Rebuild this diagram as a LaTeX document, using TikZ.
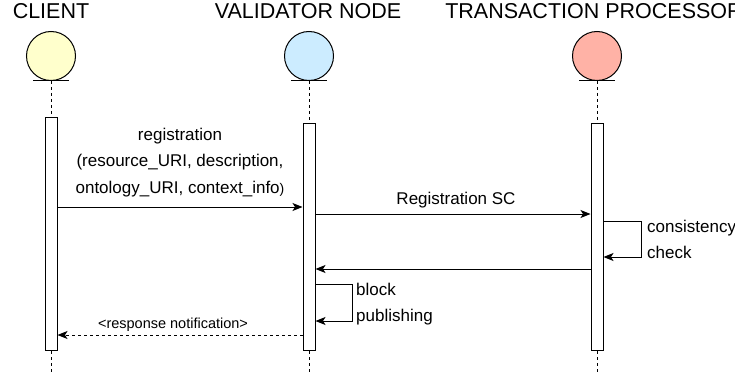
\documentclass[tikz,border=0pt]{standalone}
\usepackage{fontspec}
\setmainfont{Liberation Sans}
\usetikzlibrary{arrows.meta}
\definecolor{clientfill}{RGB}{255,255,204}
\definecolor{validfill}{RGB}{204,236,255}
\definecolor{procfill}{RGB}{255,178,166}
\tikzset{
  x=1pt, y=-1pt,
  actortitle/.style={font=\fontsize{21.5}{26}\selectfont, anchor=base, inner sep=0pt},
  actorhead/.style={circle, draw, line width=1pt, minimum size=49pt, inner sep=0pt},
  lifeline/.style={line width=1pt, dash pattern=on 3pt off 3pt},
  actbar/.style={draw, fill=white, line width=1pt, minimum width=12pt, inner sep=0pt, anchor=north},
  msg/.style={line width=1pt, -{Stealth[length=10pt,width=8pt,inset=2.5pt]}},
  reply/.style={msg, dash pattern=on 3pt off 3pt},
  msglabel/.style={font=\fontsize{17}{26}\selectfont, inner sep=0pt, anchor=base},
  smalllabel/.style={font=\fontsize{14.5}{18}\selectfont, inner sep=0pt, anchor=base},
}
\begin{document}
\begin{tikzpicture}
\useasboundingbox (0,0) rectangle (735,374);

% actor titles
\node[actortitle] (tclient) at (51,19) {CLIENT};
\node[actortitle] (tvalid) at (308,19) {VALIDATOR NODE};
\node[actortitle] (tproc) at (594,19) {TRANSACTION PROCESSOR};

% lifelines
\coordinate (eclient) at (51,372);
\coordinate (evalid) at (309,372);
\coordinate (eproc) at (597,372);
\node[actorhead, fill=clientfill] (hclient) at (51,56) {};
\node[actorhead, fill=validfill] (hvalid) at (309,56) {};
\node[actorhead, fill=procfill] (hproc) at (597,56) {};
\draw[lifeline] (hclient.south) -- (eclient);
\draw[lifeline] (hvalid.south) -- (evalid);
\draw[lifeline] (hproc.south) -- (eproc);
\foreach \h in {hclient,hvalid,hproc}
  \draw[line width=1pt] ([xshift=-18pt]\h.south) -- ([xshift=18pt]\h.south);

% activation bars
\node[actbar, minimum height=233pt] (bclient) at (51,117) {};
\node[actbar, minimum height=227pt] (bvalid) at (309,123) {};
\node[actbar, minimum height=227pt] (bproc) at (597,123) {};

% registration request (base anchor sits on the last line)
\draw[msg] (bclient.east |- 0,207) -- (bvalid.west |- 0,207);
\node[msglabel, align=center] (lreg) at (180,193)
  {registration\\(resource\_URI, description,\\ontology\_URI, context\_info{\fontsize{14}{26}\selectfont)}};

% smart contract call
\draw[msg] (bvalid.east |- 0,214) -- (bproc.west |- 0,214);
\node[msglabel] (lsc) at (456,204) {Registration SC};

% consistency check loop
\draw[msg] (bproc.east |- 0,221) -- ++(38,0) |- (bproc.east |- 0,257);
\node[msglabel, anchor=base west] (lcons) at (647,232) {consistency};
\node[msglabel, anchor=base west] (lcheck) at (647,258) {check};

% result back to validator
\draw[msg] (bproc.west |- 0,269) -- (bvalid.east |- 0,269);

% block publishing loop
\draw[msg] (bvalid.east |- 0,284) -- ++(37,0) |- (bvalid.east |- 0,321);
\node[msglabel, anchor=base west] (lblock) at (356,295) {block};
\node[msglabel, anchor=base west] (lpub) at (356,321) {publishing};

% response to client
\draw[reply] (bvalid.west |- 0,335) -- (bclient.east |- 0,335);
\node[smalllabel] (lresp) at (173,328) {<response notification>};
\end{tikzpicture}
\end{document}
